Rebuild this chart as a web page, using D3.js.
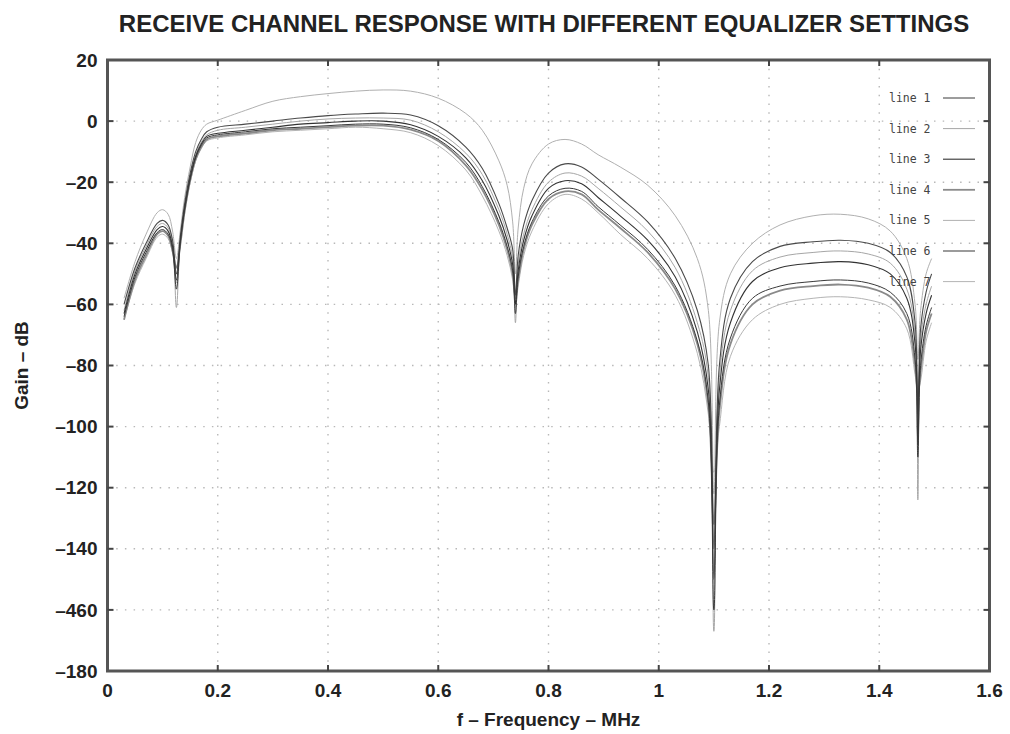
<!DOCTYPE html>
<html>
<head>
<meta charset="utf-8">
<script src="https://cdn.jsdelivr.net/npm/d3@7"></script>
<style>
  body { margin: 0; background: #fff; }
  svg { display: block; }
</style>
</head>
<body>
<div id="chart"></div>
<script>
// frequencies (MHz) shared by every trace
const freqMHz = [0.03, 0.05, 0.07, 0.09, 0.10, 0.11, 0.118, 0.125, 0.132, 0.14,
  0.15, 0.16, 0.17, 0.18, 0.20, 0.25, 0.30, 0.35, 0.40, 0.45,
  0.50, 0.55, 0.60, 0.65, 0.68, 0.71, 0.725, 0.735, 0.74, 0.745,
  0.755, 0.77, 0.80, 0.83, 0.86, 0.89, 0.93, 0.98, 1.03, 1.07,
  1.09, 1.10, 1.11, 1.13, 1.17, 1.22, 1.28, 1.33, 1.38, 1.42,
  1.45, 1.465, 1.47, 1.475, 1.485, 1.495];

// gain (dB), one array per equalizer setting
const line1 = [-64, -51, -43, -36.5, -35.5, -37, -42, -55, -40, -29,
  -19, -12, -8, -5.5, -4.5, -3.5, -2.5, -2, -1.5, -1,
  -1, -2.2, -6, -13.5, -21.5, -33, -41, -49, -63, -51,
  -41, -33, -24.5, -22, -23, -28, -34, -42, -54, -72,
  -92, -160, -93, -71, -58, -54, -52.5, -52, -53, -56,
  -63, -78, -110, -80, -67, -61];
const line2 = [-62, -49, -41, -34.5, -33.5, -35, -40, -61, -39, -28,
  -18, -11, -7, -4.5, -3, -2, -1, 0, 0.7, 1,
  1, 0.3, -3.5, -10.5, -17.5, -29, -37, -45, -66, -47,
  -37, -29, -20, -17, -18, -22, -28, -36, -48, -66,
  -84, -167, -84, -62, -49, -44.5, -43, -42.5, -43.5, -46.5,
  -55, -70, -124, -72, -60, -54];
const line3 = [-63, -50, -42, -35.5, -34.5, -36, -41, -52, -39.5, -28.5,
  -18.5, -11.5, -7.5, -5, -4, -3, -2, -1, -0.5, 0,
  0, -1.2, -5, -12, -19.5, -31, -39, -47, -60, -49,
  -39, -31, -22, -19.5, -20.5, -25, -31, -39, -51, -69,
  -88, -150, -88, -66, -52.5, -48, -46.5, -46, -47, -50,
  -58, -73, -106, -75, -63, -57];
const line4 = [-65, -52, -44, -37, -36, -37.5, -42.5, -48, -40.5, -29.5,
  -19.5, -12.5, -8.5, -6, -5, -4, -3, -2.5, -2, -1.5,
  -1.5, -2.8, -6.5, -14.5, -22.5, -34, -42, -50, -58, -52,
  -42, -34, -25.5, -23, -24, -29, -35, -43, -55, -73,
  -93, -132, -95, -73, -60, -55.5, -54, -53.5, -54.5, -57.5,
  -65, -80, -90, -82, -69, -63];
const line5 = [-58, -46, -37, -30, -29, -30.5, -36, -45, -36, -25,
  -15, -7, -3, -1, 0.3, 3.5, 6.5, 8, 9, 9.8,
  10.2, 9.8, 7.5, 2.5, -3, -13, -21, -33, -50, -35,
  -22, -14, -7.5, -6, -7.5, -11, -15, -21, -31, -45,
  -62, -122, -66, -50, -40, -34, -31, -30.5, -32, -36,
  -45, -60, -78, -62, -50, -45];
const line6 = [-60, -48, -40, -33.5, -32.5, -34, -39, -50, -38, -27,
  -17, -10, -6, -3.5, -2, -1, 0, 1, 1.8, 2.3,
  2.6, 2, -1.5, -8.5, -15.5, -27, -35, -42, -57, -44,
  -34, -26, -17, -14, -15, -19, -25, -33, -45, -62,
  -80, -140, -80, -58, -46, -41, -39.5, -39, -40, -43,
  -51, -66, -96, -68, -56, -50];
const line7 = [-65, -53, -45, -38, -37, -38.5, -43, -53, -41, -30,
  -20, -13, -9, -6.5, -5.5, -4.5, -3.5, -3, -2.5, -2,
  -2.5, -3.8, -8, -16, -24.5, -36, -44, -52, -61, -54,
  -44, -36, -27, -24, -25.5, -30, -37, -45, -57, -76,
  -96, -115, -100, -77, -65, -60, -58, -57.5, -58.5, -61,
  -68, -83, -88, -85, -72, -66];

const seriesNames = ["line 1", "line 2", "line 3", "line 4", "line 5", "line 6", "line 7"];
const seriesValues = [line1, line2, line3, line4, line5, line6, line7];

// axis ticks (labels copied as printed, including the "–460")
const xTicks = [0, 0.2, 0.4, 0.6, 0.8, 1, 1.2, 1.4, 1.6];
const xTickLabels = ["0", "0.2", "0.4", "0.6", "0.8", "1", "1.2", "1.4", "1.6"];
const yTicks = [20, 0, -20, -40, -60, -80, -100, -120, -140, -160, -180];
const yTickLabels = ["20", "0", "–20", "–40", "–60", "–80", "–100", "–120", "–140", "–460", "–180"];

const W = 1010, H = 734;
const margin = { top: 60, right: 20.5, bottom: 63, left: 107.5 };
const width = W - margin.left - margin.right,
    height = H - margin.top - margin.bottom;

// stroke style per trace (scan is greyscale)
const lineColor = ["#3a3a3a", "#a6a6a6", "#333", "#8a8a8a", "#b0b0b0", "#4a4a4a", "#b4b4b4"];
const lineWidth = [1, 1, 1.1, 1.8, 1, 1.1, 1];
const drawOrder = [4, 6, 1, 3, 5, 2, 0];

const svg = d3.select("#chart").append("svg")
    .attr("width", W)
    .attr("height", H);

const x = d3.scaleLinear().domain([0, 1.6]).range([margin.left, margin.left + width]);
const y = d3.scaleLinear().domain([-180, 20]).range([margin.top + height, margin.top]);

// grid
const grid = svg.append("g")
    .attr("stroke", "#b8b8b8")
    .attr("stroke-width", 1.4)
    .attr("stroke-dasharray", "1.5,7.2");
grid.selectAll(".gx")
    .data(xTicks.slice(1, -1))
    .enter().append("line")
    .attr("x1", d => x(d)).attr("x2", d => x(d))
    .attr("y1", margin.top).attr("y2", margin.top + height);
grid.selectAll(".gy")
    .data(yTicks.slice(1, -1))
    .enter().append("line")
    .attr("y1", d => y(d)).attr("y2", d => y(d))
    .attr("x1", margin.left).attr("x2", margin.left + width);

// traces
const line = d3.line()
    .x(d => x(d[0]))
    .y(d => y(d[1]))
    .curve(d3.curveCatmullRom.alpha(0.5));

svg.append("g")
    .selectAll("path")
    .data(drawOrder)
    .enter().append("path")
    .attr("fill", "none")
    .attr("stroke", i => lineColor[i])
    .attr("stroke-width", i => lineWidth[i])
    .attr("d", i => line(freqMHz.map((f, k) => [f, seriesValues[i][k]])));

// frame
svg.append("rect")
    .attr("x", margin.left).attr("y", margin.top)
    .attr("width", width).attr("height", height)
    .attr("fill", "none")
    .attr("stroke", "#555")
    .attr("stroke-width", 3);

// inward ticks on all four sides
const ticks = svg.append("g").attr("stroke", "#444").attr("stroke-width", 2);
xTicks.slice(1, -1).forEach(t => {
    ticks.append("line").attr("x1", x(t)).attr("x2", x(t))
        .attr("y1", margin.top).attr("y2", margin.top + 6);
    ticks.append("line").attr("x1", x(t)).attr("x2", x(t))
        .attr("y1", margin.top + height).attr("y2", margin.top + height - 6);
});
yTicks.slice(1, -1).forEach(t => {
    ticks.append("line").attr("y1", y(t)).attr("y2", y(t))
        .attr("x1", margin.left).attr("x2", margin.left + 6);
    ticks.append("line").attr("y1", y(t)).attr("y2", y(t))
        .attr("x1", margin.left + width).attr("x2", margin.left + width - 6);
});

// tick labels
const labelFont = "'Liberation Sans', Arial, sans-serif";
svg.append("g").selectAll("text")
    .data(xTicks)
    .enter().append("text")
    .attr("x", d => x(d))
    .attr("y", margin.top + height + 26)
    .attr("text-anchor", "middle")
    .attr("font-family", labelFont)
    .attr("font-weight", "bold")
    .attr("font-size", "19px")
    .attr("fill", "#222")
    .text((d, i) => xTickLabels[i]);

svg.append("g").selectAll("text")
    .data(yTicks)
    .enter().append("text")
    .attr("x", margin.left - 10)
    .attr("y", d => y(d))
    .attr("dy", "0.35em")
    .attr("text-anchor", "end")
    .attr("font-family", labelFont)
    .attr("font-weight", "bold")
    .attr("font-size", "19px")
    .attr("fill", "#222")
    .text((d, i) => yTickLabels[i]);

// title and axis titles
svg.append("text")
    .attr("x", 544)
    .attr("y", 32)
    .attr("text-anchor", "middle")
    .attr("font-family", labelFont)
    .attr("font-weight", "bold")
    .attr("font-size", "24px")
    .attr("fill", "#222")
    .text("RECEIVE CHANNEL RESPONSE WITH DIFFERENT EQUALIZER SETTINGS");

svg.append("text")
    .attr("x", margin.left + width / 2)
    .attr("y", 726)
    .attr("text-anchor", "middle")
    .attr("font-family", labelFont)
    .attr("font-weight", "bold")
    .attr("font-size", "19px")
    .attr("fill", "#222")
    .text("f – Frequency – MHz");

svg.append("text")
    .attr("transform", `translate(28,${margin.top + height / 2}) rotate(-90)`)
    .attr("text-anchor", "middle")
    .attr("font-family", labelFont)
    .attr("font-weight", "bold")
    .attr("font-size", "19px")
    .attr("fill", "#222")
    .text("Gain – dB");

// legend
const legend = svg.append("g")
    .selectAll("g")
    .data(seriesNames)
    .enter().append("g")
    .attr("transform", (d, i) => `translate(0,${98 + i * 30.6})`);
legend.append("text")
    .attr("x", 889)
    .attr("dy", "0.35em")
    .attr("font-family", "'DejaVu Sans Mono', monospace")
    .attr("font-size", "11.5px")
    .attr("fill", "#444")
    .text(d => d);
legend.append("line")
    .attr("x1", 943).attr("x2", 975)
    .attr("stroke", (d, i) => lineColor[i])
    .attr("stroke-width", (d, i) => lineWidth[i]);
</script>
</body>
</html>
